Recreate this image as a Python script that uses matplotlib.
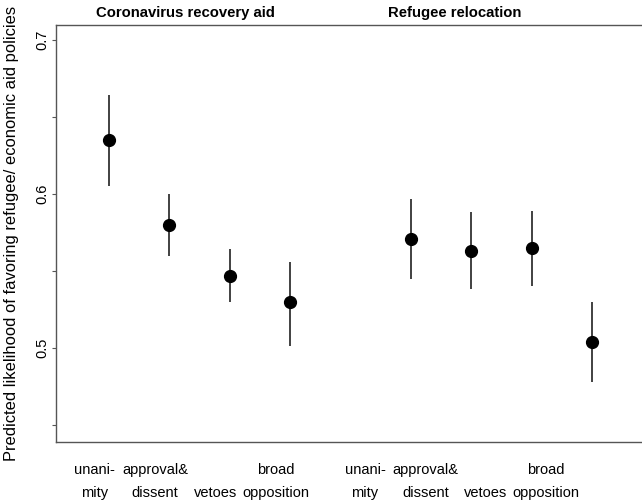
import matplotlib
matplotlib.use("Agg")
import matplotlib.pyplot as plt

plt.rcParams['font.family'] = ['Liberation Sans', 'DejaVu Sans']

# data
groups = ["Coronavirus recovery aid", "Refugee relocation"]
categories = ["unani-\nmity", "approval&\ndissent", "\nvetoes", "broad\nopposition"]
positions = [1, 2, 3, 4, 6, 7, 8, 9]
estimates = [0.635, 0.580, 0.547, 0.530, 0.571, 0.563, 0.565, 0.504]
ci_low = [0.605, 0.560, 0.530, 0.501, 0.545, 0.538, 0.540, 0.478]
ci_high = [0.664, 0.600, 0.564, 0.556, 0.597, 0.588, 0.589, 0.530]

fig = plt.figure(figsize=(6.42, 5.04), dpi=100)
ax = fig.add_axes([56 / 642, 62 / 504, 1 - 56 / 642 + 0.002, 417 / 504])

ax.vlines(positions, ci_low, ci_high, color="#333333", lw=1.3)
ax.plot(positions, estimates, "o", color="black", ms=8.5)

ax.set_xlim(0.1225, 9.846)
ax.set_ylim(0.439, 0.7097)

ax.set_yticks([0.45, 0.5, 0.55, 0.6, 0.65, 0.7])
ax.set_yticklabels(["", "0.5", "", "0.6", "", "0.7"], rotation=90, va="center", fontsize=10.5)
ax.tick_params(axis="y", length=3, width=0.8, color="#555555", pad=2)

# labels sit a bit left of the points, as in the source figure
label_pos = [p - 0.24 for p in positions[:4]] + [p - 0.76 for p in positions[4:]]
ax.set_xticks(label_pos)
ax.set_xticklabels(categories * 2, fontsize=10.5, linespacing=1.85)
ax.tick_params(axis="x", length=0, pad=15)

ax.set_ylabel("Predicted likelihood of favoring refugee/ economic aid policies", fontsize=11.9)
ax.yaxis.set_label_coords(-0.063, 0.5)

for sp in ["left", "top", "bottom"]:
    ax.spines[sp].set_color("#555555")
    ax.spines[sp].set_linewidth(1.0)
ax.spines["right"].set_visible(False)

ax.text(2.26, 1.012, groups[0], transform=ax.get_xaxis_transform(), ha="center", va="bottom",
        fontsize=10.7, fontweight="bold")
ax.text(6.73, 1.012, groups[1], transform=ax.get_xaxis_transform(), ha="center", va="bottom",
        fontsize=10.7, fontweight="bold")

plt.savefig("out.png", dpi=100)
plt.close(fig)
